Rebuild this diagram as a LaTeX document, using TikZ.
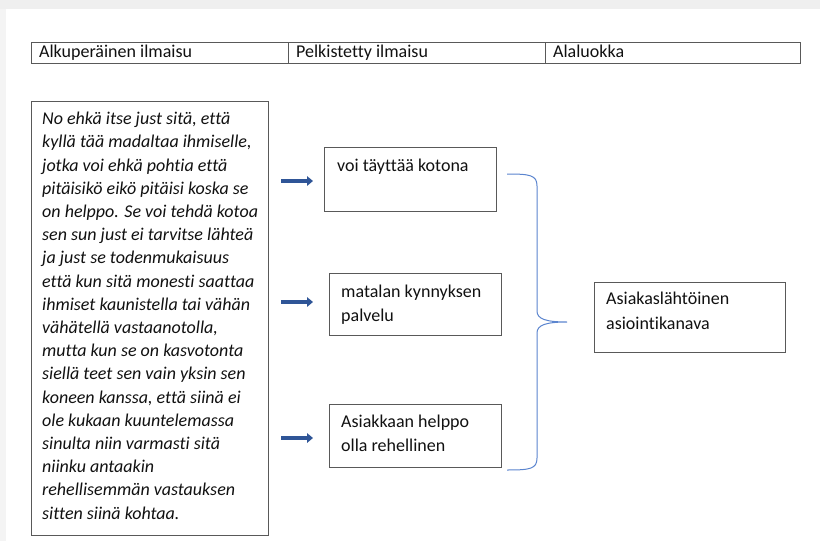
\documentclass[tikz,border=0pt]{standalone}
\usepackage{fontspec}
\setmainfont{Carlito}[Ligatures=NoCommon]
\usetikzlibrary{arrows.meta}
\definecolor{boxline}{HTML}{595959}
\definecolor{txt}{HTML}{111111}
\definecolor{arrowblue}{HTML}{2F5597}
\definecolor{bracecol}{HTML}{5B85CF}
\definecolor{bandgray}{HTML}{EFEFEF}
\definecolor{sidegray}{HTML}{F4F4F4}
\tikzset{
  x=1pt, y=-1pt,
  cell/.style={draw=boxline, line width=1pt, anchor=north west, inner sep=0pt},
  bodytext/.style={anchor=north west, inner sep=0pt, align=left, text=txt,
    font=\fontsize{18}{23.5}\selectfont},
  headtext/.style={anchor=base west, inner sep=0pt, text=txt,
    font=\fontsize{18}{22}\selectfont},
  fatarrow/.style={draw=arrowblue, line width=3.5pt,
    -{Triangle[length=6pt, width=9.5pt]}},
  bracestyle/.style={draw=bracecol, line width=1pt},
}
\begin{document}
\begin{tikzpicture}
% page and window edge
\fill[white] (0,0) rectangle (820,541);
\fill[bandgray] (0,0) rectangle (820,9);
\fill[sidegray] (0,9) rectangle (6,541);
\useasboundingbox (0,0) rectangle (820,541);

% header row
\node[cell, minimum width=257pt, minimum height=21pt] (h1) at (31,42) {};
\node[cell, minimum width=257pt, minimum height=21pt] (h2) at (288,42) {};
\node[cell, minimum width=255pt, minimum height=21pt] (h3) at (545,42) {};
\node[headtext] (h1t) at (39,57.5) {Alkuperäinen ilmaisu};
\node[headtext] (h2t) at (296,57.5) {Pelkistetty ilmaisu};
\node[headtext] (h3t) at (553,57.5) {Alaluokka};

% original quote
\node[cell, minimum width=237pt, minimum height=434pt] (quote) at (31,101) {};
\node[bodytext, font=\itshape\fontsize{18}{23.2}\selectfont] (quotet) at (42,112) {%
No ehkä itse just sitä, että\\
kyllä tää madaltaa ihmiselle,\\
jotka voi ehkä pohtia että\\
pitäisikö eikö pitäisi koska se\\
on helppo. Se voi tehdä kotoa\\
sen sun just ei tarvitse lähteä\\
ja just se todenmukaisuus\\
että kun sitä monesti saattaa\\
ihmiset kaunistella tai vähän\\
vähätellä vastaanotolla,\\
mutta kun se on kasvotonta\\
siellä teet sen vain yksin sen\\
koneen kanssa, että siinä ei\\
ole kukaan kuuntelemassa\\
sinulta niin varmasti sitä\\
niinku antaakin\\
rehellisemmän vastauksen\\
sitten siinä kohtaa.};

% reduced expressions
\node[cell, minimum width=172pt, minimum height=64pt] (r1) at (324,147) {};
\node[bodytext] (r1t) at (337,159) {voi täyttää kotona};
\node[cell, minimum width=172pt, minimum height=62pt] (r2) at (329,273) {};
\node[bodytext] (r2t) at (341,285) {matalan kynnyksen\\palvelu};
\node[cell, minimum width=172pt, minimum height=63pt] (r3) at (329,404) {};
\node[bodytext] (r3t) at (341,415) {Asiakkaan helppo\\olla rehellinen};

% subcategory
\node[cell, minimum width=191pt, minimum height=70pt] (sub) at (594,282) {};
\node[bodytext, font=\fontsize{18}{24.5}\selectfont] (subt) at (606,292) {Asiakaslähtöinen\\asiointikanava};

% arrows from the quote to each reduced expression
\coordinate (a1s) at (281,181); \coordinate (a1e) at (313,181);
\coordinate (a2s) at (281,302); \coordinate (a2e) at (313,302);
\coordinate (a3s) at (281,438); \coordinate (a3e) at (313,438);
\draw[fatarrow] (a1s) -- (a1e);
\draw[fatarrow] (a2s) -- (a2e);
\draw[fatarrow] (a3s) -- (a3e);

% brace gathering the three expressions
\coordinate (btop) at (507,174);
\coordinate (btip) at (567,322);
\coordinate (bbot) at (507,470);
\draw[bracestyle] (btop) .. controls (530,174) and (537,175) .. (537,186)
  -- (537,311) .. controls (537,319) and (546,322) .. (btip)
  .. controls (546,322) and (537,325) .. (537,333)
  -- (537,458) .. controls (537,469) and (530,470) .. (bbot);
\end{tikzpicture}
\end{document}
